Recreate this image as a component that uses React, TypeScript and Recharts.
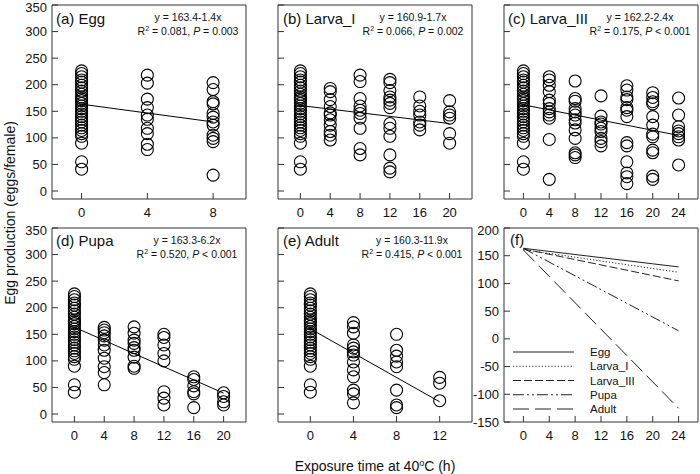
import React from 'react';
import { ScatterChart, Scatter, XAxis, YAxis, ReferenceArea, Legend } from 'recharts';

const font = '"Liberation Sans", Arial, sans-serif';
const frame = '#333';
const ink = '#111';

// egg production of untreated females, shared by every panel at 0 h
const control = [226, 221, 215, 209, 205, 199, 194, 188, 182, 177, 174, 170, 165, 160, 155, 150, 145, 140, 135, 130, 124, 119, 114, 108, 103, 90, 55, 41];

// (a) Egg
const eggTimes = [0, 4, 8];
const egg4 = [218, 203, 173, 157, 143, 135, 118, 108, 88, 78];
const egg8 = [204, 191, 168, 164, 146, 139, 130, 124, 105, 99, 93, 30];
const eggFit = [163.4, 130];

// (b) Larva_I
const larva1Times = [0, 4, 8, 12, 16, 20];
const larva1_4 = [193, 187, 172, 159, 147, 143, 134, 124, 112, 105, 96];
const larva1_8 = [218, 206, 174, 160, 152, 146, 137, 118, 80, 68];
const larva1_12 = [210, 204, 189, 177, 171, 165, 157, 127, 118, 103, 68, 43, 36];
const larva1_16 = [177, 160, 150, 143, 130, 124, 115];
const larva1_20 = [170, 149, 143, 137, 108, 90];
const larva1Fit = [160.9, 126.9];

// (c) Larva_III
const larva3Times = [0, 4, 8, 12, 16, 20, 24];
const larva3_4 = [215, 209, 199, 187, 171, 165, 155, 149, 143, 137, 97, 22];
const larva3_8 = [207, 174, 169, 155, 149, 143, 134, 128, 115, 99, 72, 68, 63];
const larva3_12 = [179, 141, 130, 126, 118, 112, 99, 93, 85];
const larva3_16 = [198, 190, 177, 172, 157, 152, 140, 91, 85, 55, 34, 27, 14];
const larva3_20 = [185, 176, 168, 164, 140, 124, 107, 102, 77, 72, 28, 22];
const larva3_24 = [175, 143, 121, 113, 108, 102, 96, 49];
const larva3Fit = [162.2, 104.6];

// (d) Pupa
const pupaTimes = [0, 4, 8, 12, 16, 20];
const pupa4 = [163, 158, 153, 147, 139, 130, 120, 105, 89, 78, 55];
const pupa8 = [164, 152, 139, 133, 125, 120, 107, 90, 86];
const pupa12 = [150, 144, 130, 114, 100, 42, 30, 17];
const pupa16 = [70, 65, 53, 42, 38, 12];
const pupa20 = [40, 33, 23, 17];
const pupaFit = [163.3, 39.3];

// (e) Adult
const adultTimes = [0, 4, 8, 12];
const adult4 = [172, 164, 152, 130, 124, 117, 111, 98, 83, 70, 45, 38, 21];
const adult8 = [150, 120, 109, 98, 89, 45, 17, 12];
const adult12 = [69, 58, 25];
const adultFit = [160.3, 23];

// (f) all regressions over 0-24 h
const stageNames = ['Egg', 'Larva_I', 'Larva_III', 'Pupa', 'Adult'];
const stageStart = [163.4, 160.9, 162.2, 163.3, 160.3];
const stageEnd24 = [129.8, 120.1, 104.6, 14.5, -125.3];
const stageDash = ['', '1.2 2', '8 3', '11 3 2 3 2 3', '16 6'];

const yTicks = [0, 50, 100, 150, 200, 250, 300, 350];
const fTicks = [-150, -100, -50, 0, 50, 100, 150, 200];

const PW = 194;
const PH = 194;
const YW = 52;
const MT = 12;
const TM = 9;
const YM = 5;

function XTick(props: any) {
  const { x, y, payload } = props;
  return (
    <g>
      <line x1={x} x2={x} y1={y - TM} y2={y - TM - 6} stroke={frame} />
      <text x={x} y={y} dy="0.71em" textAnchor="middle" fontSize={13} fontFamily={font} fill={ink}>
        {payload.value}
      </text>
    </g>
  );
}

function makeYTick(showLabel: boolean) {
  return function YTick(props: any) {
    const { x, y, payload } = props;
    // keep the topmost label inside the page (the chart of the top row starts at page y = -7)
    const ty = Math.max(y, MT + 2.5);
    return (
      <g>
        <line x1={x + YM} x2={x + YM + 6} y1={y} y2={y} stroke={frame} />
        {showLabel && (
          <text x={x} y={ty} dy="0.355em" textAnchor="end" fontSize={13} fontFamily={font} fill={ink}>
            {payload.value}
          </text>
        )}
      </g>
    );
  };
}

const Ring = (p: any) => <circle cx={p.cx} cy={p.cy} r={6} fill="none" stroke="#000" strokeWidth={1.1} />;
const NoDot = () => <g />;

type PanelSpec = {
  left: number;
  top: number;
  xDomain: [number, number];
  times: number[];
  groups: number[][];
  fit: number[];
  showY: boolean;
};

function Panel({ left, top, xDomain, times, groups, fit, showY }: PanelSpec) {
  const points = times.flatMap((t, i) => groups[i].map(v => ({ x: t, y: v })));
  const line = [
    { x: times[0], y: fit[0] },
    { x: times[times.length - 1], y: fit[1] }
  ];
  const yDomain: [number, number] = [-15, 350];
  return (
    <div style={{ position: 'absolute', left: left - YW, top: top - MT }}>
      <ScatterChart width={YW + PW + 4} height={MT + PH + 30} margin={{ top: MT, right: 4, bottom: 0, left: 0 }}>
        <XAxis
          type="number"
          dataKey="x"
          domain={xDomain}
          ticks={times}
          interval={0}
          allowDataOverflow
          axisLine={false}
          tickLine={false}
          tickSize={0}
          tickMargin={TM}
          height={30}
          tick={<XTick />}
        />
        <YAxis
          type="number"
          dataKey="y"
          domain={yDomain}
          ticks={yTicks}
          interval={0}
          allowDataOverflow
          axisLine={false}
          tickLine={false}
          tickSize={0}
          tickMargin={YM}
          width={YW}
          tick={makeYTick(showY && top > 100 ? true : showY)}
        />
        <ReferenceArea x1={xDomain[0]} x2={xDomain[1]} y1={yDomain[0]} y2={yDomain[1]} fill="none" stroke={frame} strokeWidth={1} />
        <Scatter data={points} shape={Ring} isAnimationActive={false} />
        <Scatter data={line} shape={NoDot} line={{ stroke: '#000', strokeWidth: 1 }} isAnimationActive={false} />
      </ScatterChart>
    </div>
  );
}

function SummaryLegend() {
  return (
    <svg width={150} height={80}>
      {stageNames.map((name, i) => (
        <g key={name}>
          <line x1={3} x2={64} y1={7 + i * 14.25} y2={7 + i * 14.25} stroke="#222" strokeWidth={1} strokeDasharray={stageDash[i] || undefined} />
          <text x={80} y={7 + i * 14.25} dy="0.355em" fontSize={11.5} fontFamily={font} fill={ink}>
            {name}
          </text>
        </g>
      ))}
    </svg>
  );
}

function SummaryPanel({ left, top }: { left: number; top: number }) {
  const xDomain: [number, number] = [-3, 27];
  const yDomain: [number, number] = [-150, 200];
  return (
    <div style={{ position: 'absolute', left: left - YW, top: top - MT }}>
      <ScatterChart width={YW + PW + 4} height={MT + PH + 30} margin={{ top: MT, right: 4, bottom: 0, left: 0 }}>
        <XAxis
          type="number"
          dataKey="x"
          domain={xDomain}
          ticks={larva3Times}
          interval={0}
          allowDataOverflow
          axisLine={false}
          tickLine={false}
          tickSize={0}
          tickMargin={TM}
          height={30}
          tick={<XTick />}
        />
        <YAxis
          type="number"
          dataKey="y"
          domain={yDomain}
          ticks={fTicks}
          interval={0}
          allowDataOverflow
          axisLine={false}
          tickLine={false}
          tickSize={0}
          tickMargin={YM}
          width={YW}
          tick={makeYTick(true)}
        />
        <ReferenceArea x1={xDomain[0]} x2={xDomain[1]} y1={yDomain[0]} y2={yDomain[1]} fill="none" stroke={frame} strokeWidth={1} />
        {stageNames.map((name, i) => (
          <Scatter
            key={name}
            name={name}
            data={[
              { x: 0, y: stageStart[i] },
              { x: 24, y: stageEnd24[i] }
            ]}
            shape={NoDot}
            line={{ stroke: '#222', strokeWidth: 1, strokeDasharray: stageDash[i] || undefined }}
            isAnimationActive={false}
          />
        ))}
        <Legend
          layout="vertical"
          align="center"
          verticalAlign="middle"
          content={<SummaryLegend />}
          wrapperStyle={{ position: 'absolute', left: 58, top: 117 + MT, width: 150, height: 80 }}
        />
      </ScatterChart>
    </div>
  );
}

function Equation({ cx, top, a, b, r2, p }: { cx: number; top: number; a: string; b: string; r2: string; p: string }) {
  return (
    <g fontFamily={font} fontSize={10.5} fill={ink} textAnchor="middle">
      <text x={cx} y={top + 12.5} dy="0.355em">{`y = ${a}-${b}x`}</text>
      <text x={cx} y={top + 26} dy="0.355em">
        R<tspan dy={-4} fontSize={7}>2</tspan>
        <tspan dy={4}>{` = ${r2}, `}</tspan>
        <tspan fontStyle="italic">P</tspan>
        {` ${p}`}
      </text>
    </g>
  );
}

const upper = 5;
const lower = 228;
const col = [52, 278, 504];

export default function App() {
  return (
    <div style={{ position: 'absolute', left: 0, top: 0, width: 700, height: 474, background: '#fff', overflow: 'hidden' }}>
      <Panel left={col[0]} top={upper} xDomain={[-1.8, 10]} times={eggTimes} groups={[control, egg4, egg8]} fit={eggFit} showY />
      <Panel
        left={col[1]}
        top={upper}
        xDomain={[-3, 23]}
        times={larva1Times}
        groups={[control, larva1_4, larva1_8, larva1_12, larva1_16, larva1_20]}
        fit={larva1Fit}
        showY={false}
      />
      <Panel
        left={col[2]}
        top={upper}
        xDomain={[-3, 27]}
        times={larva3Times}
        groups={[control, larva3_4, larva3_8, larva3_12, larva3_16, larva3_20, larva3_24]}
        fit={larva3Fit}
        showY={false}
      />
      <Panel
        left={col[0]}
        top={lower}
        xDomain={[-3, 23]}
        times={pupaTimes}
        groups={[control, pupa4, pupa8, pupa12, pupa16, pupa20]}
        fit={pupaFit}
        showY
      />
      <Panel
        left={col[1]}
        top={lower}
        xDomain={[-3, 15]}
        times={adultTimes}
        groups={[control, adult4, adult8, adult12]}
        fit={adultFit}
        showY={false}
      />
      <SummaryPanel left={col[2]} top={lower} />

      <svg width={700} height={474} style={{ position: 'absolute', left: 0, top: 0, pointerEvents: 'none' }}>
        <g fontFamily={font} fontSize={15} fill={ink}>
          <text x={56} y={upper + 14} dy="0.355em">(a) Egg</text>
          <text x={283} y={upper + 14} dy="0.355em">(b) Larva_I</text>
          <text x={508} y={upper + 14} dy="0.355em">(c) Larva_III</text>
          <text x={56} y={lower + 13} dy="0.355em">(d) Pupa</text>
          <text x={283} y={lower + 13} dy="0.355em">(e) Adult</text>
          <text x={510} y={lower + 12} dy="0.355em">(f)</text>
        </g>
        <Equation cx={188} top={upper} a="163.4" b="1.4" r2="0.081" p="= 0.003" />
        <Equation cx={413} top={upper} a="160.9" b="1.7" r2="0.066" p="= 0.002" />
        <Equation cx={640} top={upper} a="162.2" b="2.4" r2="0.175" p="< 0.001" />
        <Equation cx={187} top={lower} a="163.3" b="6.2" r2="0.520" p="< 0.001" />
        <Equation cx={412} top={lower} a="160.3" b="11.9" r2="0.415" p="< 0.001" />
        <text x={10} y={213} transform="rotate(-90 10 213)" textAnchor="middle" dy="0.355em" fontFamily={font} fontSize={14} fill={ink}>
          Egg production (eggs/female)
        </text>
        <text x={375} y={466} textAnchor="middle" dy="0.355em" fontFamily={font} fontSize={14} fill={ink}>
          Exposure time at 40<tspan dy={-5} fontSize={9}>o</tspan>
          <tspan dy={5}>C (h)</tspan>
        </text>
      </svg>
    </div>
  );
}
